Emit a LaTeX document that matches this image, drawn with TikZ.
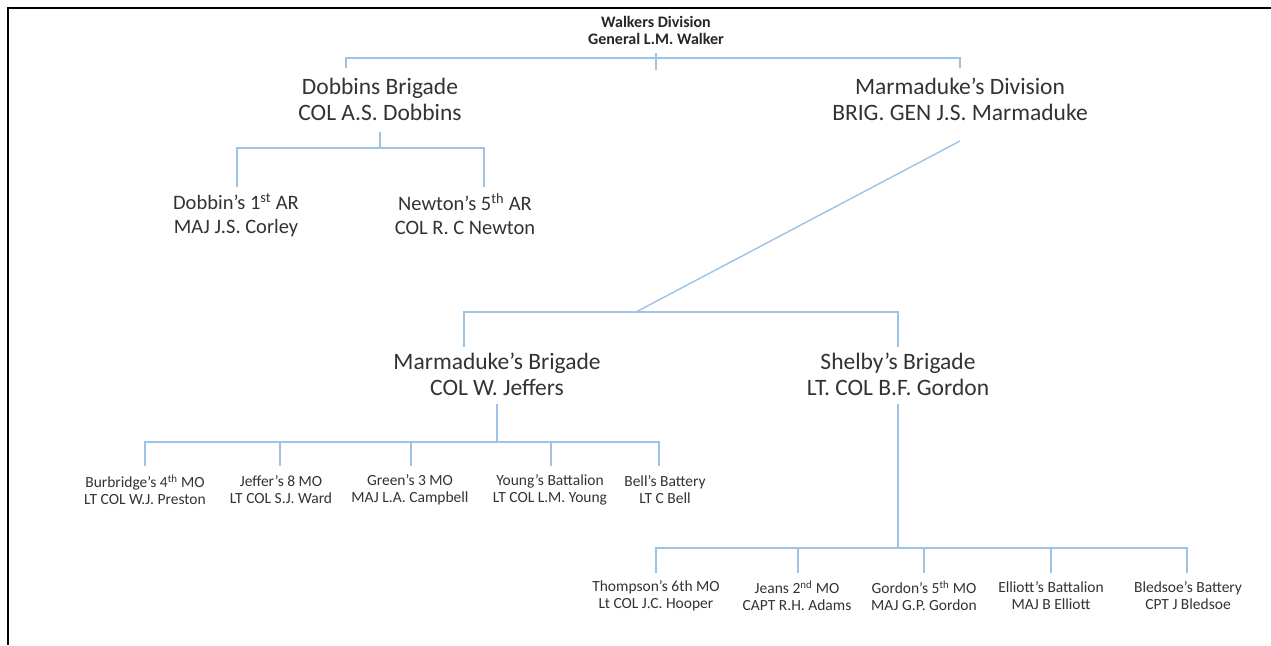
\documentclass[tikz,border=0pt]{standalone}
\usepackage{fontspec}
\setmainfont{Carlito}
\begin{document}
\begin{tikzpicture}[x=1pt,y=-1pt,
  conn/.style={draw={rgb,255:red,157;green,195;blue,230},line width=1.4pt},
  frame/.style={draw=black,line width=2.6pt},
  topbox/.style={align=center,inner sep=0pt,font=\bfseries\fontsize{16}{17}\selectfont,text=black!85},
  bigbox/.style={align=center,inner sep=0pt,font=\fontsize{23.5}{26}\selectfont,text=black!80},
  midbox/.style={align=center,inner sep=0pt,font=\fontsize{20.5}{24}\selectfont,text=black!80},
  smallbox/.style={align=center,inner sep=0pt,font=\fontsize{15.5}{17}\selectfont,text=black!80}]
\useasboundingbox (0,0) rectangle (1271,645);
\fill[white] (0,0) rectangle (1271,645);
\draw[frame] (8,645) -- (8,8) -- (1271,8);
% nodes
\node[topbox] (walker) at (656,30) {Walkers Division\\General L.M. Walker};
\node[bigbox] (dobbins) at (380,99) {Dobbins Brigade\\COL A.S. Dobbins};
\node[bigbox] (marmdiv) at (960,99) {Marmaduke’s Division\\BRIG. GEN J.S. Marmaduke};
\node[midbox] (dob1) at (236,215) {Dobbin’s 1\textsuperscript{st} AR\\MAJ J.S. Corley};
\node[midbox] (newton) at (465,214) {Newton’s 5\textsuperscript{th} AR\\COL R. C Newton};
\node[bigbox] (marmbr) at (497,374) {Marmaduke’s Brigade\\COL W. Jeffers};
\node[bigbox] (shelby) at (898,374) {Shelby’s Brigade\\LT. COL B.F. Gordon};
\node[smallbox] (burb) at (145,490) {Burbridge’s 4\textsuperscript{th} MO\\LT COL W.J. Preston};
\node[smallbox] (jeff) at (281,490) {Jeffer’s 8 MO\\LT COL S.J. Ward};
\node[smallbox] (green) at (410,490) {Green’s 3 MO\\MAJ L.A. Campbell};
\node[smallbox] (young) at (550,490) {Young’s Battalion\\LT COL L.M. Young};
\node[smallbox] (bell) at (665,490) {Bell’s Battery\\LT C Bell};
\node[smallbox] (thomp) at (656,596) {Thompson’s 6th MO\\Lt COL J.C. Hooper};
\node[smallbox] (jeans) at (797,596) {Jeans 2\textsuperscript{nd} MO\\CAPT R.H. Adams};
\node[smallbox] (gordon) at (924,596) {Gordon’s 5\textsuperscript{th} MO\\MAJ G.P. Gordon};
\node[smallbox] (elliott) at (1051,596) {Elliott’s Battalion\\MAJ B Elliott};
\node[smallbox] (bled) at (1188,596) {Bledsoe’s Battery\\CPT J Bledsoe};
% junction coordinates
\coordinate (w1) at (656,53); \coordinate (w2) at (656,70);
\coordinate (wbus) at (656,58);
\coordinate (d0) at (346,68); \coordinate (m0) at (960,68);
\coordinate (dtop) at (380,132); \coordinate (dbus) at (380,148);
\coordinate (c1) at (237,187); \coordinate (c2) at (484,187);
\coordinate (mdiv) at (960,141); \coordinate (mbus) at (636,312);
\coordinate (b1) at (464,347); \coordinate (b2) at (898,347);
\coordinate (mbtop) at (497,404); \coordinate (mbbus) at (497,442);
\coordinate (s1) at (145,466); \coordinate (s2) at (280,466); \coordinate (s3) at (411,466);
\coordinate (s4) at (551,466); \coordinate (s5) at (659,466);
\coordinate (shtop) at (898,404); \coordinate (shbus) at (898,548);
\coordinate (t1) at (656,573); \coordinate (t2) at (798,573); \coordinate (t3) at (924,573);
\coordinate (t4) at (1051,573); \coordinate (t5) at (1187,573);
% connectors
\draw[conn] (w1) -- (w2);
\draw[conn] (d0) -- (d0 |- wbus) -- (m0 |- wbus) -- (m0);
\draw[conn] (dtop) -- (dbus);
\draw[conn] (c1) -- (c1 |- dbus) -- (c2 |- dbus) -- (c2);
\draw[conn] (mdiv) -- (mbus);
\draw[conn] (b1) -- (b1 |- mbus) -- (b2 |- mbus) -- (b2);
\draw[conn] (mbtop) -- (mbbus);
\draw[conn] (s1) -- (s1 |- mbbus) -- (s5 |- mbbus) -- (s5);
\draw[conn] (s2) -- (s2 |- mbbus);
\draw[conn] (s3) -- (s3 |- mbbus);
\draw[conn] (s4) -- (s4 |- mbbus);
\draw[conn] (shtop) -- (shbus);
\draw[conn] (t1) -- (t1 |- shbus) -- (t5 |- shbus) -- (t5);
\draw[conn] (t2) -- (t2 |- shbus);
\draw[conn] (t3) -- (t3 |- shbus);
\draw[conn] (t4) -- (t4 |- shbus);
\end{tikzpicture}
\end{document}
